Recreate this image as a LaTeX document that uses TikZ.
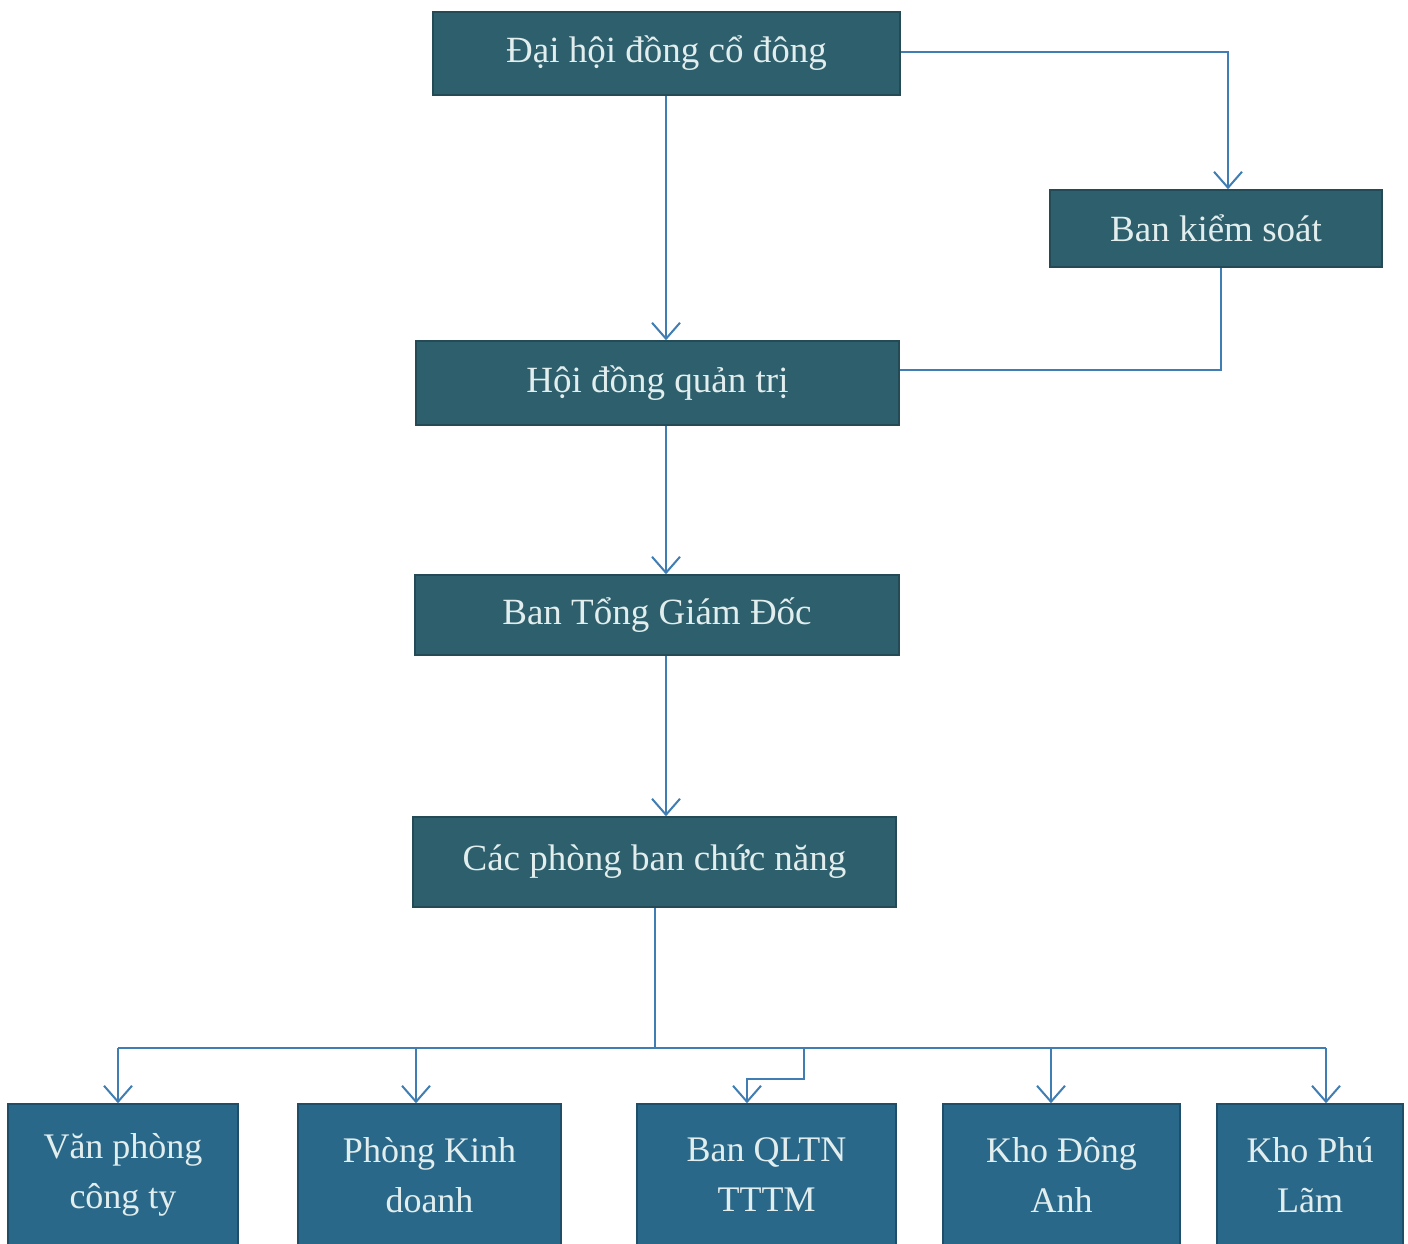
\documentclass[tikz,border=0pt]{standalone}
\usepackage{fontspec}
\setmainfont{Liberation Serif}
\usetikzlibrary{arrows.meta}
\definecolor{topbox}{HTML}{2E5F6C}
\definecolor{topedge}{HTML}{234A55}
\definecolor{botbox}{HTML}{2A6889}
\definecolor{botedge}{HTML}{1F4F68}
\definecolor{linec}{HTML}{3F7DB3}
\definecolor{txt}{HTML}{E2EEEE}
\tikzset{
  topnode/.style={draw=topedge, fill=topbox, line width=1.5pt, text=txt, inner sep=0pt,
    font=\fontsize{37}{44}\selectfont},
  botnode/.style={draw=botedge, fill=botbox, line width=1.5pt, text=txt, inner sep=0pt,
    align=center, font=\fontsize{36}{50}\selectfont},
  conn/.style={draw=linec, line width=2pt},
  arr/.style={conn, -{Straight Barb[length=16pt,width=28pt,line width=2pt]}},
}
\begin{document}
\begin{tikzpicture}[x=1pt,y=-1pt]
\useasboundingbox (0,0) rectangle (1408,1243);
\fill[white] (0,0) rectangle (1408,1243);
% top chain
\node[topnode, minimum width=467pt, minimum height=83pt] (dh) at (666.5,53.5) {Đại hội đồng cổ đông};
\node[topnode, minimum width=332pt, minimum height=77pt] (bks) at (1216,228.5) {Ban kiểm soát};
\node[topnode, minimum width=483pt, minimum height=84pt] (hd) at (657.5,383) {Hội đồng quản trị};
\node[topnode, minimum width=484pt, minimum height=80pt] (tgd) at (657,615) {Ban Tổng Giám Đốc};
\node[topnode, minimum width=483pt, minimum height=90pt] (pb) at (654.5,862) {Các phòng ban chức năng};
% bottom row
\node[botnode, minimum width=230pt, minimum height=142pt] (vp) at (123,1175) {Văn phòng\\công ty};
\node[botnode, minimum width=263pt, minimum height=142pt] (kd) at (429.5,1175) {Phòng Kinh\\doanh};
\node[botnode, minimum width=259pt, minimum height=142pt] (ql) at (766.5,1175) {Ban QLTN\\TTTM};
\node[botnode, minimum width=237pt, minimum height=142pt] (da) at (1061.5,1175) {Kho Đông\\Anh};
\node[botnode, minimum width=186pt, minimum height=142pt] (pl) at (1310,1175) {Kho Phú\\Lãm};
% coordinates
\coordinate (c1) at (1228,52);
\coordinate (c2) at (1221,370);
\coordinate (bus) at (655,1048);
\coordinate (busL) at (118,1048);
\coordinate (busR) at (1326,1048);
\coordinate (q1) at (804,1048);
\coordinate (q2) at (804,1079);
\coordinate (q3) at (747,1079);
% connectors
\draw[arr] (dh.east |- c1) -| (bks.north -| c1);
\draw[arr] (dh.south -| 666,0) -- (hd.north -| 666,0);
\draw[conn] (bks.south -| c2) |- (hd.east |- c2);
\draw[arr] (hd.south -| 666,0) -- (tgd.north -| 666,0);
\draw[arr] (tgd.south -| 666,0) -- (pb.north -| 666,0);
\draw[conn] (pb.south -| bus) -- (bus);
\draw[conn] (busL) -- (busR);
\draw[arr] (busL) -- (vp.north -| busL);
\draw[arr] (416,1048) coordinate (k1) -- (kd.north -| k1);
\draw[arr] (q1) -- (q2) -- (q3) -- (ql.north -| q3);
\draw[arr] (1051,1048) coordinate (d1) -- (da.north -| d1);
\draw[arr] (busR) -- (pl.north -| busR);
\end{tikzpicture}
\end{document}
